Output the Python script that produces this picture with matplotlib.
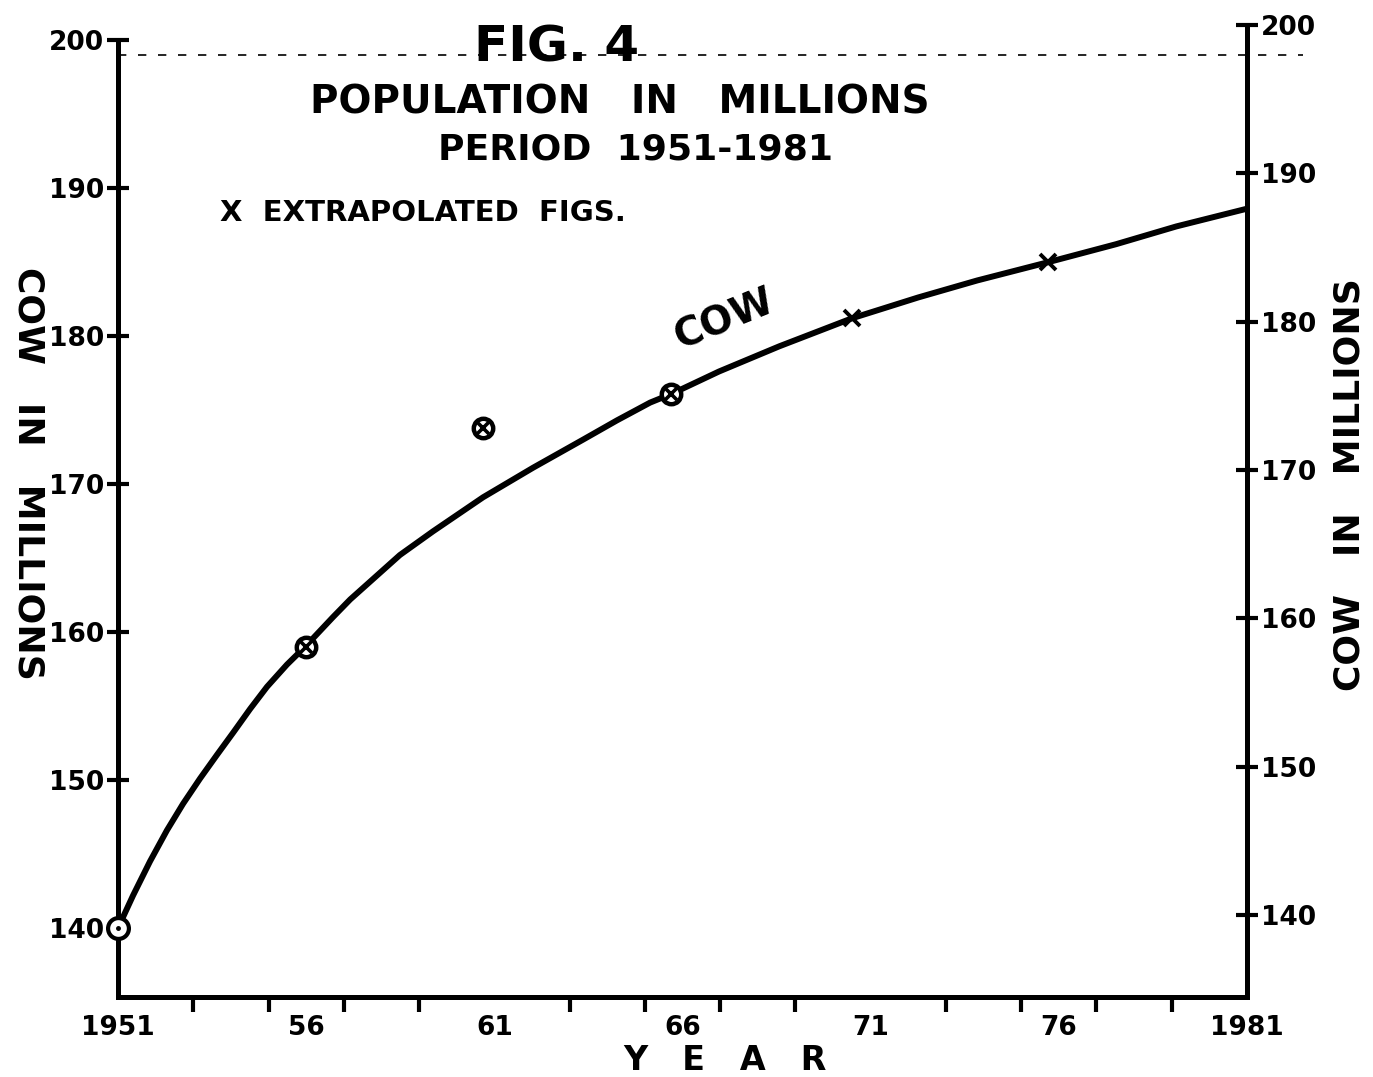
import numpy as np
import matplotlib
matplotlib.use('Agg')
import matplotlib.pyplot as plt

# values
curve_year = [1951.0, 1951.4, 1951.85, 1952.3, 1952.73, 1953.18, 1953.63, 1954.06,
              1954.51, 1954.96, 1955.49, 1955.97, 1956.71, 1957.17, 1958.49, 1959.37,
              1960.7, 1962.03, 1963.36, 1964.26, 1965.14, 1965.72, 1966.97, 1968.57,
              1970.51, 1972.26, 1973.83, 1975.74, 1977.52, 1979.12, 1981.0]
curve_cow = [140.0, 142.2, 144.5, 146.6, 148.4, 150.1, 151.7, 153.2,
             154.8, 156.3, 157.8, 159.0, 161.0, 162.2, 165.2, 166.8,
             169.1, 171.1, 173.0, 174.3, 175.5, 176.1, 177.6, 179.3,
             181.2, 182.6, 183.75, 185.0, 186.2, 187.4, 188.6]
start_year = [1951.0]
start_cow = [140.0]
census_year = [1956.0, 1960.7, 1965.7]
census_cow = [159.0, 173.8, 176.1]
extrap_year = [1970.5, 1975.7]
extrap_cow = [181.2, 185.0]

year_ticks = [1951, 1956, 1961, 1966, 1971, 1976, 1981]
year_labels = ['1951', '56', '61', '66', '71', '76', '1981']
minor_years = list(range(1953, 1981, 2))
cow_ticks = [140, 150, 160, 170, 180, 190, 200]
top_guide = 199.0

# figure
W, H = 1373, 1077
fig = plt.figure(figsize=(W / 100, H / 100), dpi=100, facecolor='w')
ax = fig.add_axes([118 / W, 1 - 997 / H, (1247 - 118) / W, (997 - 25) / H])
ax.set_facecolor('none')
ax.set_xlim(1951, 1981)
ax.set_ylim(135.34, 201.01)

lw = 3.6
for s in ['top', 'right']:
    ax.spines[s].set_visible(False)
for s in ['left', 'bottom']:
    ax.spines[s].set_linewidth(lw)
ax.spines['left'].set_bounds(135.34, 200)

ax.set_xticks(year_ticks, year_labels)
ax.set_xticks(minor_years, minor=True)
ax.tick_params(axis='x', which='major', length=0, pad=13, labelsize=19)
ax.tick_params(axis='x', which='minor', direction='out', length=11, width=3)
ax.set_yticks(cow_ticks)
ax.tick_params(axis='y', direction='inout', length=16, width=3, labelsize=19, pad=2)

# right axis (drawn slightly higher on the sheet)
ax2 = ax.twinx()
ax2.set_ylim(134.47, 200)
for s in ['top', 'left', 'bottom']:
    ax2.spines[s].set_visible(False)
ax2.spines['right'].set_linewidth(lw)
ax2.set_yticks(cow_ticks)
ax2.tick_params(axis='y', direction='inout', length=16, width=3, labelsize=19, pad=2)

for lab in ax.get_xticklabels() + ax.get_yticklabels() + ax2.get_yticklabels():
    lab.set_fontweight('bold')

# curve and points
ax.plot(curve_year, curve_cow, 'k-', lw=4.3, solid_capstyle='round',
        solid_joinstyle='round', zorder=3)
ax.plot(start_year, start_cow, 'o', ms=15, mfc='w', mec='k', mew=3, zorder=4, clip_on=False)
ax.plot(start_year, start_cow, '.', ms=5, color='k', zorder=5, clip_on=False)
ax.plot(census_year, census_cow, 'o', ms=14, mfc='w', mec='k', mew=3.2, zorder=4)
ax.plot(census_year, census_cow, 'x', ms=8, color='k', mew=2.6, zorder=5)
ax.plot(extrap_year, extrap_cow, 'x', ms=12, color='k', mew=2.8, zorder=5)

# faint dashed guide at the top
ax.axhline(top_guide, xmin=0, xmax=1.05, color='k', lw=1.2, ls=(0, (5, 7)),
           clip_on=False, zorder=1)

# texts
def ftext(x, y, s, **kw):
    fig.text(x / W, 1 - y / H, s, ha='center', va='center', fontweight='bold', **kw)

ftext(557, 48, 'FIG. 4', fontsize=36)
ftext(620, 103, 'POPULATION   IN   MILLIONS', fontsize=28)
ftext(636, 150, 'PERIOD  1951-1981', fontsize=26)
ftext(423, 213, 'X  EXTRAPOLATED  FIGS.', fontsize=21)
ftext(724, 320, 'COW', fontsize=28, rotation=22)
ftext(28, 473, 'COW   IN   MILLIONS', fontsize=26, rotation=-90)
ftext(1350, 485, 'COW   IN   MILLIONS', fontsize=26, rotation=90)
ftext(725, 1060, 'Y   E   A   R', fontsize=24)

fig.savefig('out.png', dpi=100, facecolor='w')
